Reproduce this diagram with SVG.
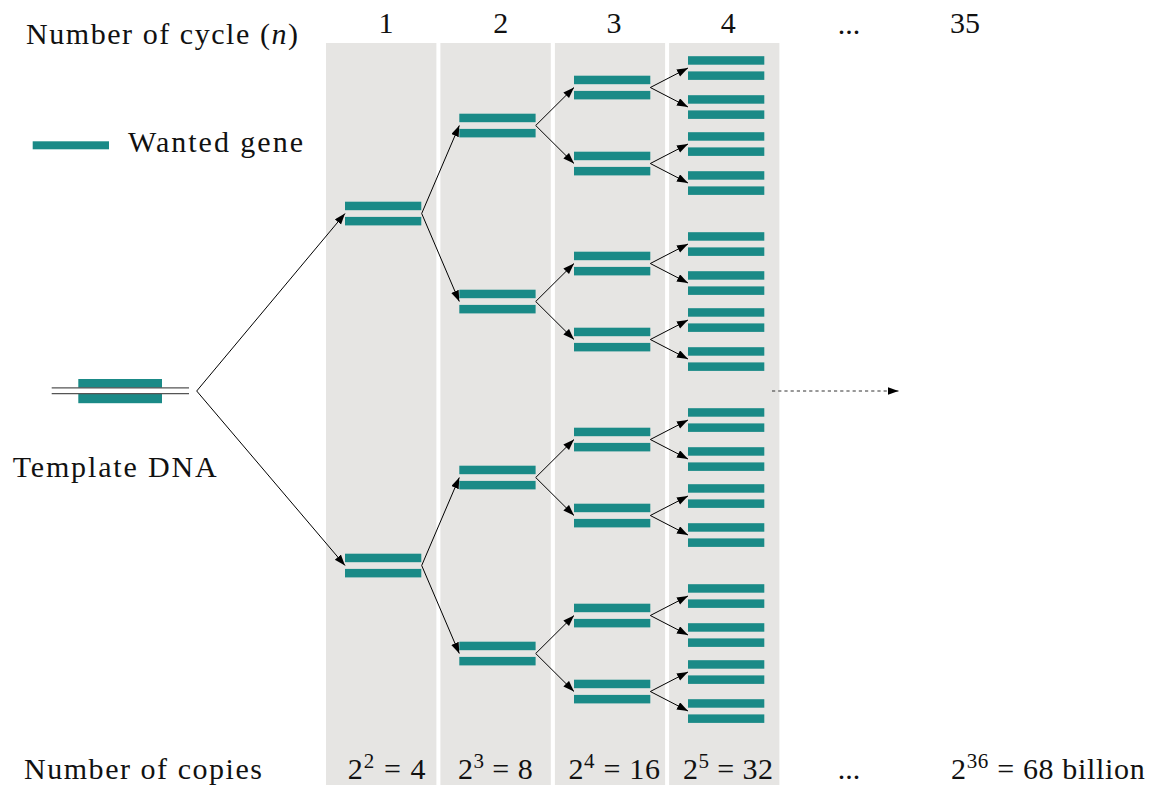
<svg xmlns="http://www.w3.org/2000/svg" width="1158" height="785" viewBox="0 0 1158 785">
<style>
.t{font-family:"Liberation Serif",Tinos,"Times New Roman","Nimbus Roman","Nimbus Roman No9 L",FreeSerif,"Noto Serif","DejaVu Serif",Times,serif;font-size:30px;fill:#111}
.g{fill:#1a8a87}
.col{fill:#e6e5e3}
.a{stroke:#000;stroke-width:1;fill:none;marker-end:url(#ah)}
.d{stroke:#333;stroke-width:1;fill:none;stroke-dasharray:3.2 3;marker-end:url(#ah)}
.m{text-anchor:middle}
</style>
<defs>
<marker id="ah" markerUnits="userSpaceOnUse" markerWidth="12" markerHeight="9" refX="11" refY="4" orient="auto">
<path d="M0,0 L11,4 L0,8 z" fill="#000"/>
</marker>
<g id="pair"><rect class="g" x="0" y="-11.8" width="76.3" height="8.5"/><rect class="g" x="0" y="3.4" width="76.3" height="8.5"/></g>
</defs>
<rect width="1158" height="785" fill="#fff"/>
<g id="columns">
<rect class="col" x="326" y="43" width="110.4" height="742"/>
<rect class="col" x="440.4" y="43" width="110.4" height="742"/>
<rect class="col" x="554.9" y="43" width="110.2" height="742"/>
<rect class="col" x="669.1" y="43" width="110.3" height="742"/>
</g>
<g id="labels">
<text class="t" x="26" y="44" textLength="272" lengthAdjust="spacing">Number of cycle (<tspan font-style="italic">n</tspan>)</text>
<text class="t m" x="386" y="33.3">1</text>
<text class="t m" x="500.7" y="33.3">2</text>
<text class="t m" x="614" y="33.3">3</text>
<text class="t m" x="728.3" y="33.3">4</text>
<text class="t m" x="849" y="34">...</text>
<text class="t m" x="965" y="33.3">35</text>
<text class="t" x="24" y="779" textLength="238" lengthAdjust="spacing">Number of copies</text>
<text class="t" x="347.8" y="779" textLength="77.6" lengthAdjust="spacing">2<tspan font-size="21" baseline-shift="11">2</tspan> = 4</text>
<text class="t" x="458" y="779" textLength="74.7" lengthAdjust="spacing">2<tspan font-size="21" baseline-shift="11">3</tspan> = 8</text>
<text class="t" x="568.4" y="779" textLength="91.6" lengthAdjust="spacing">2<tspan font-size="21" baseline-shift="11">4</tspan> = 16</text>
<text class="t" x="683" y="779" textLength="90" lengthAdjust="spacing">2<tspan font-size="21" baseline-shift="11">5</tspan> = 32</text>
<text class="t m" x="849" y="779">...</text>
<text class="t" x="951" y="779" textLength="193.7" lengthAdjust="spacing">2<tspan font-size="21" baseline-shift="11">36</tspan> = 68 billion</text>
</g>
<g id="legend">
<rect class="g" x="32.7" y="141.3" width="76.3" height="8"/>
<text class="t" x="128" y="152.3" textLength="175" lengthAdjust="spacing">Wanted gene</text>
</g>
<g id="template">
<rect class="g" x="78.3" y="379" width="83.7" height="24.2"/>
<rect x="51.7" y="387.8" width="137.3" height="5.8" fill="#fff"/>
<line x1="51.7" y1="387.8" x2="189" y2="387.8" stroke="#555" stroke-width="1.3"/>
<line x1="51.7" y1="393.6" x2="189" y2="393.6" stroke="#555" stroke-width="1.3"/>
<text class="t" x="12.7" y="476.7" textLength="204" lengthAdjust="spacing">Template DNA</text>
</g>
<g id="cycle1">
<use id="n1a" href="#pair" x="345" y="213.5"/>
<use id="n1b" href="#pair" x="345" y="565.5"/>
</g>
<g id="cycle2">
<use id="n2a" href="#pair" x="459.3" y="125.5"/>
<use id="n2b" href="#pair" x="459.3" y="301.5"/>
<use id="n2c" href="#pair" x="459.3" y="477.5"/>
<use id="n2d" href="#pair" x="459.3" y="653.5"/>
</g>
<g id="cycle3">
<use id="n3a" href="#pair" x="574" y="87.5"/>
<use id="n3b" href="#pair" x="574" y="163.5"/>
<use id="n3c" href="#pair" x="574" y="263.5"/>
<use id="n3d" href="#pair" x="574" y="339.5"/>
<use id="n3e" href="#pair" x="574" y="439.5"/>
<use id="n3f" href="#pair" x="574" y="515.5"/>
<use id="n3g" href="#pair" x="574" y="615.5"/>
<use id="n3h" href="#pair" x="574" y="691.5"/>
</g>
<g id="cycle4">
<use href="#pair" x="688" y="68"/>
<use href="#pair" x="688" y="107"/>
<use href="#pair" x="688" y="144"/>
<use href="#pair" x="688" y="183"/>
<use href="#pair" x="688" y="244"/>
<use href="#pair" x="688" y="283"/>
<use href="#pair" x="688" y="320"/>
<use href="#pair" x="688" y="359"/>
<use href="#pair" x="688" y="420"/>
<use href="#pair" x="688" y="459"/>
<use href="#pair" x="688" y="496"/>
<use href="#pair" x="688" y="535"/>
<use href="#pair" x="688" y="596"/>
<use href="#pair" x="688" y="635"/>
<use href="#pair" x="688" y="672"/>
<use href="#pair" x="688" y="711"/>
</g>
<g id="connectors">
<path class="a" d="M196.7,391 L345,213.5"/>
<path class="a" d="M196.7,391 L345,565.5"/>
<path class="a" d="M421.7,213.5 L459.3,125.5"/>
<path class="a" d="M421.7,213.5 L459.3,301.5"/>
<path class="a" d="M421.7,565.5 L459.3,477.5"/>
<path class="a" d="M421.7,565.5 L459.3,653.5"/>
<path class="a" d="M535.7,125.5 L574,87.5"/>
<path class="a" d="M535.7,125.5 L574,163.5"/>
<path class="a" d="M535.7,301.5 L574,263.5"/>
<path class="a" d="M535.7,301.5 L574,339.5"/>
<path class="a" d="M535.7,477.5 L574,439.5"/>
<path class="a" d="M535.7,477.5 L574,515.5"/>
<path class="a" d="M535.7,653.5 L574,615.5"/>
<path class="a" d="M535.7,653.5 L574,691.5"/>
<path class="a" d="M650.3,87.5 L688,68"/>
<path class="a" d="M650.3,87.5 L688,107"/>
<path class="a" d="M650.3,163.5 L688,144"/>
<path class="a" d="M650.3,163.5 L688,183"/>
<path class="a" d="M650.3,263.5 L688,244"/>
<path class="a" d="M650.3,263.5 L688,283"/>
<path class="a" d="M650.3,339.5 L688,320"/>
<path class="a" d="M650.3,339.5 L688,359"/>
<path class="a" d="M650.3,439.5 L688,420"/>
<path class="a" d="M650.3,439.5 L688,459"/>
<path class="a" d="M650.3,515.5 L688,496"/>
<path class="a" d="M650.3,515.5 L688,535"/>
<path class="a" d="M650.3,615.5 L688,596"/>
<path class="a" d="M650.3,615.5 L688,635"/>
<path class="a" d="M650.3,691.5 L688,672"/>
<path class="a" d="M650.3,691.5 L688,711"/>
<path class="d" d="M772,391 L898.5,391"/>
</g>
</svg>
